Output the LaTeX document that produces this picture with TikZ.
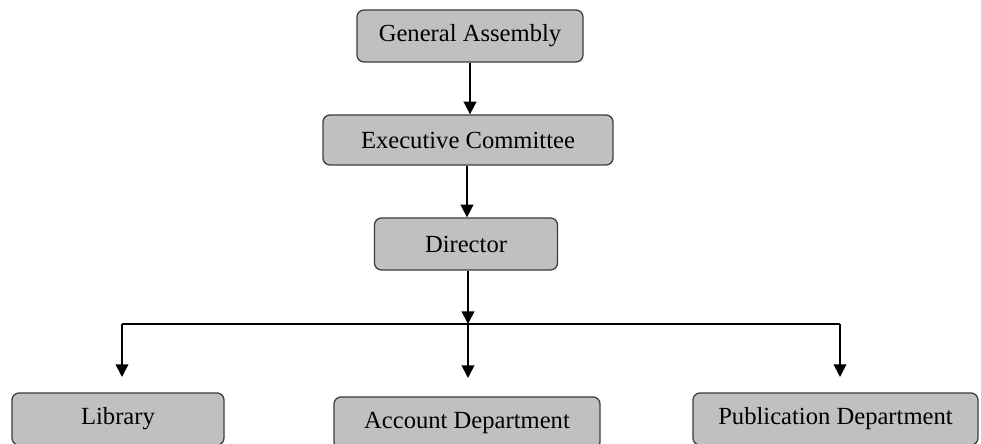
\documentclass[tikz,border=0pt]{standalone}
\usepackage{fontspec}
\setmainfont{Liberation Serif}
\usepackage{xcolor}
\usetikzlibrary{
    arrows.meta,
    positioning,
    calc
}
\definecolor{boxGray}{RGB}{192,192,192}
\definecolor{edgeGray}{RGB}{60,60,60}
\tikzset{
  unit/.style  = {draw=edgeGray, fill=boxGray, rounded corners=5pt,
                  line width=0.9pt, align=center,
                  font=\fontsize{17.5}{21}\selectfont, inner sep=0pt},
  arr/.style   = {-{Triangle[length=9pt,width=9pt]}, line width=1.2pt, black},
  link/.style  = {line width=1.2pt, black}
}

\begin{document}
\begin{tikzpicture}[x=0.025cm, y=-0.025cm]
    \useasboundingbox (0,0) rectangle (981,444);
    % top of the chart
    \node[unit, minimum width=5.65cm, minimum height=1.3cm] (ga) at (470,36) {General Assembly};
    \node[unit, minimum width=7.25cm, minimum height=1.25cm] (ec) at (468,140) {Executive Committee};
    \node[unit, minimum width=4.575cm, minimum height=1.3cm] (dir) at (466,244) {Director};
    % departments
    \node[unit, minimum width=5.3cm, minimum height=1.3cm] (lib) at (118,419) {Library};
    \node[unit, minimum width=6.65cm, minimum height=1.3cm] (acc) at (467,423) {Account Department};
    \node[unit, minimum width=7.125cm, minimum height=1.3cm] (pub) at (835.5,419) {Publication Department};
    % branch line
    \coordinate (bl) at (122,324);
    \coordinate (bm) at (468,324);
    \coordinate (br) at (840,324);
    \coordinate (el) at (122,377);
    \coordinate (em) at (468,378);
    \coordinate (er) at (840,377);
    \draw[arr] (ga.south -| 470,0) -- (ec.north -| 470,0);
    \draw[arr] (ec.south -| 467,0) -- (dir.north -| 467,0);
    \draw[arr] (dir.south -| bm) -- (bm);
    \draw[link] (bl) -- (br);
    \draw[arr] (bl) -- (el);
    \draw[arr] (bm) -- (em);
    \draw[arr] (br) -- (er);
\end{tikzpicture}
\end{document}
